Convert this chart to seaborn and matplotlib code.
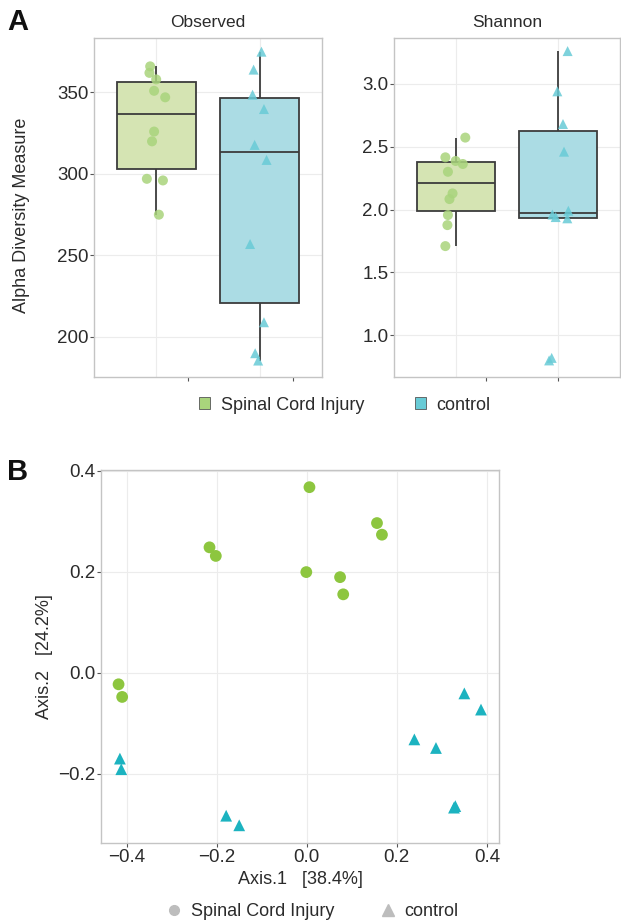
import numpy as np
import pandas as pd
import matplotlib
matplotlib.use("Agg")
import matplotlib.pyplot as plt
import seaborn as sns
from matplotlib.patches import Patch
from matplotlib.lines import Line2D

groups = ["Spinal Cord Injury", "control"]

# alpha diversity, with the jitter offsets seen in the picture
obs_sci = [366, 362, 358, 351, 347, 326, 320, 297, 296, 275]
obs_sci_dx = [-0.058, -0.065, 0.0, -0.02, 0.087, -0.02, -0.04, -0.09, 0.065, 0.026]
obs_ctl = [375, 364, 348.6, 339.8, 317.8, 308.6, 257, 209, 190, 185.5]
obs_ctl_dx = [0.016, -0.06, -0.07, 0.04, -0.05, 0.065, -0.094, 0.04, -0.045, -0.016]

sha_sci = [2.572, 2.415, 2.386, 2.362, 2.30, 2.128, 2.083, 1.956, 1.876, 1.709]
sha_sci_dx = [0.094, -0.10, 0.0, 0.07, -0.075, -0.03, -0.06, -0.075, -0.08, -0.10]
sha_ctl = [3.26, 2.94, 2.68, 2.46, 1.99, 1.96, 1.94, 1.93, 0.82, 0.80]
sha_ctl_dx = [0.09, -0.01, 0.045, 0.055, 0.097, -0.058, -0.026, 0.087, -0.065, -0.09]

# PCoA coordinates (panel B)
pc_sci_x = [0.006, 0.156, 0.167, -0.216, -0.202, -0.001, 0.074, 0.081, -0.418, -0.410]
pc_sci_y = [0.367, 0.296, 0.273, 0.248, 0.231, 0.199, 0.189, 0.155, -0.023, -0.048]
pc_ctl_x = [0.350, 0.387, 0.239, 0.287, 0.330, 0.327, -0.415, -0.412, -0.179, -0.150]
pc_ctl_y = [-0.041, -0.073, -0.132, -0.149, -0.264, -0.267, -0.170, -0.191, -0.283, -0.302]

box_fill = {"Spinal Cord Injury": "#d5e4b3", "control": "#abdce4"}
pt_col = {"Spinal Cord Injury": "#a9d47c", "control": "#68cbd6"}
pc_col = {"Spinal Cord Injury": "#8dc63f", "control": "#1cb3c0"}

sns.set_theme(style="white")
plt.rcParams["font.family"] = ["Liberation Sans", "DejaVu Sans"]
txt = "#2b2b2b"

W, H = 621, 924
fig = plt.figure(figsize=(W / 100, H / 100), dpi=100)


def px_axes(l, t, r, b):
    return fig.add_axes([l / W, 1 - b / H, (r - l) / W, (b - t) / H])


def alpha_panel(ax, sci, sci_dx, ctl, ctl_dx, title, ylim, yticks, tick_pos):
    df = pd.DataFrame({
        "group": [groups[0]] * len(sci) + [groups[1]] * len(ctl),
        "value": sci + ctl,
    })
    sns.boxplot(data=df, x="group", y="value", hue="group", order=groups,
                palette=box_fill, saturation=1, width=0.76, showfliers=False,
                linecolor="#3c3c3c", linewidth=1.3, legend=False, ax=ax,
                capprops={"linewidth": 0})
    pts = pd.DataFrame({
        "x": [0 + d for d in sci_dx] + [1 + d for d in ctl_dx],
        "value": sci + ctl,
        "group": df["group"],
    })
    sns.scatterplot(data=pts, x="x", y="value", hue="group", style="group",
                    markers={groups[0]: "o", groups[1]: "^"}, palette=pt_col,
                    s=52, alpha=0.85, edgecolor="none", legend=False, ax=ax,
                    zorder=5)
    ax.set_xlim(-0.60, 1.60)
    ax.set_ylim(*ylim)
    ax.set_yticks(yticks)
    ax.set_yticklabels([f"{v:g}" if v >= 10 else f"{v:.1f}" for v in yticks])
    ax.set_xticks(tick_pos)
    ax.set_xticklabels([])
    for v in [0, 1]:
        ax.axvline(v, color="#ececec", lw=0.8, zorder=0)
    for v in yticks:
        ax.axhline(v, color="#ececec", lw=0.8, zorder=0)
    ax.set_xlabel("")
    ax.set_ylabel("")
    ax.set_title(title, fontsize=12.5, color=txt, pad=8)
    for s in ax.spines.values():
        s.set_color("#c4c4c4")
        s.set_linewidth(1)
    ax.tick_params(axis="both", length=3, width=0.8, color="#555555",
                   labelsize=13.5, labelcolor=txt, pad=1, bottom=True, left=True)


ax1 = px_axes(94, 38, 322, 377)
alpha_panel(ax1, obs_sci, obs_sci_dx, obs_ctl, obs_ctl_dx, "Observed",
            (175.4, 383.4), [200, 250, 300, 350], [0.31, 1.32])
ax2 = px_axes(394, 38, 620, 377)
alpha_panel(ax2, sha_sci, sha_sci_dx, sha_ctl, sha_ctl_dx, "Shannon",
            (0.668, 3.364), [1.0, 1.5, 2.0, 2.5, 3.0], [0.30, 1.0])

fig.text(22 / W, 1 - 215 / H, "Alpha Diversity Measure", rotation=90,
         ha="center", va="center", fontsize=13, color=txt)
fig.text(18 / W, 1 - 22 / H, "A", ha="center", va="center", fontsize=21,
         fontweight="bold", color="#111111")

handles_a = [Patch(facecolor=pt_col[g], edgecolor="#555555", linewidth=0.6)
             for g in groups]
fig.legend(handles_a, groups, loc="center", bbox_to_anchor=(345 / W, 1 - 405 / H),
           ncol=2, frameon=False, fontsize=13, handlelength=0.6, handleheight=0.6,
           handletextpad=0.6, columnspacing=2.8, labelcolor=txt)

# panel B
axb = px_axes(101, 470, 499, 843)
pc = pd.DataFrame({
    "Axis.1": pc_sci_x + pc_ctl_x,
    "Axis.2": pc_sci_y + pc_ctl_y,
    "group": [groups[0]] * len(pc_sci_x) + [groups[1]] * len(pc_ctl_x),
})
sns.scatterplot(data=pc, x="Axis.1", y="Axis.2", hue="group", style="group",
                markers={groups[0]: "o", groups[1]: "^"}, palette=pc_col,
                s=72, edgecolor="none", legend=False, ax=axb)
axb.set_xlim(-0.457, 0.427)
axb.set_ylim(-0.337, 0.401)
axb.set_xticks([-0.4, -0.2, 0.0, 0.2, 0.4])
axb.set_yticks([-0.2, 0.0, 0.2, 0.4])
axb.set_xticklabels(["\u22120.4", "\u22120.2", "0.0", "0.2", "0.4"])
axb.set_yticklabels(["\u22120.2", "0.0", "0.2", "0.4"])
for v in [-0.4, -0.2, 0.0, 0.2, 0.4]:
    axb.axvline(v, color="#ececec", lw=0.8, zorder=0)
for v in [-0.2, 0.0, 0.2, 0.4]:
    axb.axhline(v, color="#ececec", lw=0.8, zorder=0)
for s in axb.spines.values():
    s.set_color("#c4c4c4")
    s.set_linewidth(1)
axb.tick_params(axis="both", length=3, width=0.8, color="#555555",
                labelsize=13.5, labelcolor=txt, pad=1, bottom=True, left=True)
axb.set_xlabel("Axis.1   [38.4%]", fontsize=13, color=txt, labelpad=4)
axb.set_ylabel("Axis.2   [24.2%]", fontsize=13, color=txt, labelpad=4)
fig.text(18 / W, 1 - 472 / H, "B", ha="center", va="center", fontsize=21,
         fontweight="bold", color="#111111")

handles_b = [Line2D([], [], marker="o", ls="none", color="#bdbdbd", markersize=7),
             Line2D([], [], marker="^", ls="none", color="#bdbdbd", markersize=8)]
fig.legend(handles_b, groups, loc="center", bbox_to_anchor=(312 / W, 1 - 912 / H),
           ncol=2, frameon=False, fontsize=13, handlelength=1.0,
           handletextpad=0.4, columnspacing=2.5, labelcolor=txt)

fig.savefig("out.png", dpi=100, facecolor="white")
